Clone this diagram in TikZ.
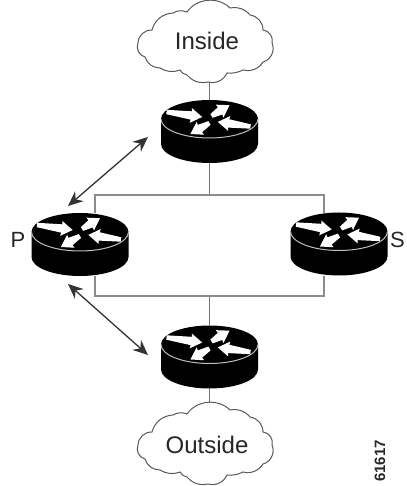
\documentclass[tikz,border=0pt]{standalone}
\usepackage{fontspec}
\setmainfont{Liberation Sans}
\usetikzlibrary{arrows.meta}
\tikzset{
  x=1pt,y=1pt,
  routerbox/.style={minimum width=97pt,minimum height=63pt,inner sep=0pt,outer sep=0pt},
  cloudbox/.style={minimum width=134pt,minimum height=78pt,inner sep=0pt,outer sep=0pt},
  cloudline/.style={draw=black!65,line width=1pt,fill=white},
  wire/.style={draw=black!55,line width=1.1pt},
  wirebold/.style={draw=black!45,line width=1.5pt},
  dbl/.style={draw=black!80,line width=1.3pt,{Stealth[length=15pt,width=13pt]}-{Stealth[length=15pt,width=13pt]}},
  lab/.style={inner sep=0pt,text=black!85,font=\fontsize{22}{22}\selectfont},
  cloudtext/.style={inner sep=0pt,text=black!85,font=\fontsize{24}{24}\selectfont}
}
\newcommand{\flowarrow}[4]{%
  \fill[white,shift={(#1,#2)},rotate=#3] (0,-2.2) -- (#4-11,-4.2) -- (#4-11.5,-7.5) -- (#4,0)
    -- (#4-11.5,7.5) -- (#4-11,4.2) -- (0,2.2) -- cycle;}
\newcommand{\routerdraw}[1]{%
  \begin{scope}[shift={(#1.center)}]
    \fill[black] (-48.5,12.5) arc[start angle=180,end angle=0,x radius=48.5,y radius=19]
      -- (48.5,-12.5) arc[start angle=0,end angle=-180,x radius=48.5,y radius=19] -- cycle;
    \draw[black!25,line width=1pt] (-48.5,12.5) arc[start angle=180,end angle=360,x radius=48.5,y radius=19];
    \flowarrow{-43}{19.5}{-8}{36}
    \flowarrow{2}{15.5}{31}{21}
    \flowarrow{41}{5}{172}{33}
    \flowarrow{0}{8.5}{210}{22}
  \end{scope}}
\newcommand{\clouddraw}[1]{%
  \begin{scope}[shift={(#1.center)}]
    \draw[cloudline] (-67,0) to[bend left=45] (-53,13) to[bend left=35] (-32,30)
      to[bend left=25] (-18,31) to[bend left=50] (25,35) to[bend left=30] (45,28)
      to[bend left=40] (58,13) to[bend left=50] (67,0) to[bend left=50] (58,-19)
      to[bend left=35] (38,-27) to[bend left=15] (22,-30) to[bend left=40] (3,-39)
      to[bend left=30] (-18,-32) to[bend left=25] (-25,-27) to[bend left=25] (-45,-25)
      to[bend left=35] (-60,-14) to[bend left=50] cycle;
  \end{scope}}
\begin{document}
\begin{tikzpicture}
\useasboundingbox (0,0) rectangle (406,486);
\node[routerbox] (rtop) at (209.5,354.5) {};
\node[routerbox] (rp) at (80,241.5) {};
\node[routerbox] (rs) at (339,242) {};
\node[routerbox] (rbot) at (209.5,129) {};
\node[cloudbox] (inside) at (205,443) {};
\node[cloudbox] (outside) at (205,41) {};
\coordinate (tj) at (209.5,291);
\coordinate (bj) at (209.5,190);
\coordinate (tl) at (95,291);
\coordinate (tr) at (324,291);
\coordinate (bl) at (95,190);
\coordinate (br) at (324,190);
\coordinate (ptl) at (95,273);
\coordinate (ptr) at (324,273);
\coordinate (pbl) at (95,210);
\coordinate (pbr) at (324,210);
\coordinate (a1) at (148,349);
\coordinate (a2) at (68,280);
\coordinate (b1) at (68,202);
\coordinate (b2) at (148,131);
\draw[wire] (inside.south) ++(4.5,0) -- (rtop.north);
\draw[wire] (rtop.south) -- (tj);
\draw[wire] (rbot.south) -- (outside.north -| rbot.south);
\draw[wire] (bj) -- (rbot.north);
\draw[wirebold] (ptl) -- (tl) -- (tr) -- (ptr);
\draw[wirebold] (pbl) -- (bl) -- (br) -- (pbr);
\clouddraw{inside}
\clouddraw{outside}
\routerdraw{rtop}
\routerdraw{rp}
\routerdraw{rs}
\routerdraw{rbot}
\node[cloudtext] (t1) at (207,445) {Inside};
\node[cloudtext] (t2) at (207,41) {Outside};
\draw[dbl] (a1) -- (a2);
\draw[dbl] (b1) -- (b2);
\node[lab] (lp) at (18,246) {P};
\node[lab] (ls) at (397.5,246) {S};
\node[rotate=90,inner sep=0pt,font=\bfseries\fontsize{15}{15}\selectfont,text=black!85,anchor=east] (num) at (380,46) {61617};
\end{tikzpicture}
\end{document}
